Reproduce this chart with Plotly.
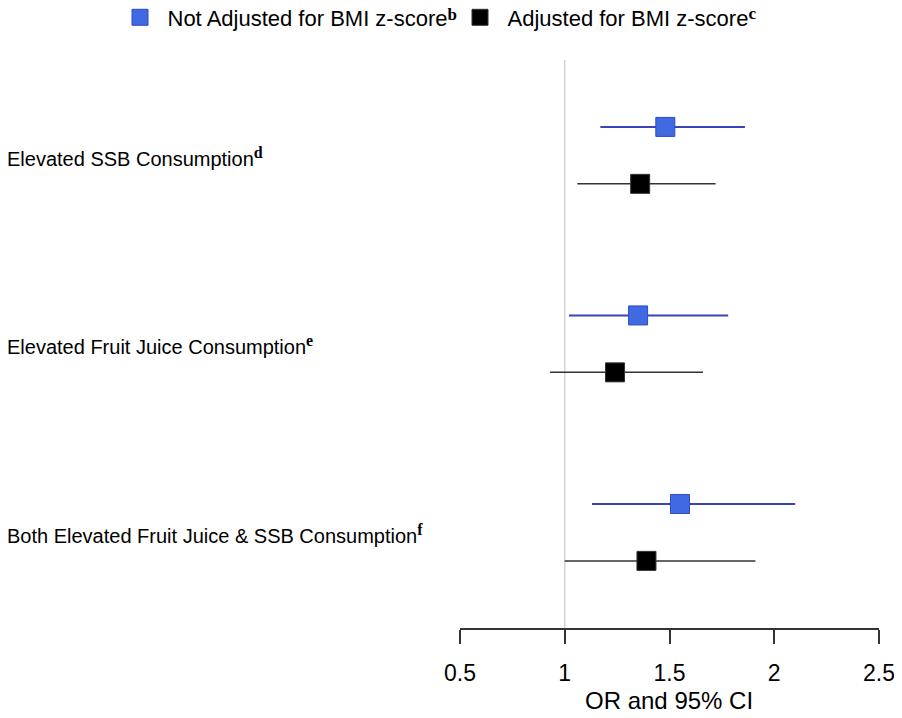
import plotly.graph_objects as go

categories = ["Elevated SSB Consumption", "Elevated Fruit Juice Consumption",
              "Both Elevated Fruit Juice & SSB Consumption"]
cat_sup = ["d", "e", "f"]

or_unadj = [1.48, 1.35, 1.55]
lo_unadj = [1.17, 1.02, 1.13]
hi_unadj = [1.86, 1.78, 2.10]

or_adj = [1.36, 1.24, 1.39]
lo_adj = [1.06, 0.93, 1.00]
hi_adj = [1.72, 1.66, 1.91]

xticks = [0.5, 1, 1.5, 2, 2.5]
xticklabels = ["0.5", "1", "1.5", "2", "2.5"]
xtitle = "OR and 95% CI"

FONT = "Liberation Sans, Arial, sans-serif"
BLUE = "#4169E1"
BLUE_LINE = "#3A44B8"

# figure geometry (page body has an 8px margin)
W, H = 886, 702
ML, MR, MT, MB = 452, 15, 52, 82
PW = W - ML - MR
PH = H - MT - MB

rows = list(range(len(categories)))
off = 0.151


def sup(s, size=16):
    return (f"<sup><span style='font-family:Liberation Serif;font-size:{size}px'>"
            f"<b>{s}</b></span></sup>")


def shifted(s, size, shift):
    return (f"<span style='font-family:Liberation Serif;font-size:{size}px;"
            f"font-weight:bold;baseline-shift:{shift}px'>{s}</span>")


fig = go.Figure()

fig.add_trace(go.Scatter(
    x=or_unadj, y=[r - off for r in rows], mode="markers",
    name="Not Adjusted for BMI z-score" + shifted("b", 17, 6),
    marker=dict(symbol="square", size=19, color=BLUE, line=dict(color="#2B4ACB", width=1)),
    error_x=dict(type="data", symmetric=False,
                 array=[h - o for h, o in zip(hi_unadj, or_unadj)],
                 arrayminus=[o - l for o, l in zip(or_unadj, lo_unadj)],
                 color=BLUE_LINE, thickness=2, width=0),
))
fig.add_trace(go.Scatter(
    x=or_adj, y=[r + off for r in rows], mode="markers",
    name="Adjusted for BMI z-score" + shifted("c", 17, 7),
    marker=dict(symbol="square", size=19, color="black", line=dict(color="#333333", width=1)),
    error_x=dict(type="data", symmetric=False,
                 array=[h - o for h, o in zip(hi_adj, or_adj)],
                 arrayminus=[o - l for o, l in zip(or_adj, lo_adj)],
                 color="#333333", thickness=1.5, width=0),
))

fig.add_shape(type="line", x0=1, x1=1, xref="x", yref="paper", y0=0, y1=1,
              line=dict(color="#D3D3D3", width=1.5), layer="below")

for r, (c, s) in enumerate(zip(categories, cat_sup)):
    fig.add_annotation(
        x=(-3 - ML) / PW, xref="paper", y=r + 0.008, yref="y",
        xanchor="left", yanchor="middle", showarrow=False,
        text=c + sup(s),
        font=dict(family=FONT, size=20, color="black"),
    )

# axis title
fig.add_annotation(
    x=(660.5 - ML) / PW, xref="paper", y=-72 / PH, yref="paper",
    xanchor="center", yanchor="middle", showarrow=False,
    text=xtitle, font=dict(family=FONT, size=24, color="black"),
)

fig.update_layout(
    width=W, height=H,
    margin=dict(l=ML, r=MR, t=MT, b=MB, autoexpand=False),
    paper_bgcolor="white", plot_bgcolor="white",
    font=dict(family=FONT, size=20, color="black"),
    showlegend=True,
    legend=dict(orientation="h", x=(104.5 - ML) / PW, xref="paper", xanchor="left",
                y=1 + (MT - 9.5) / PH, yref="paper", yanchor="middle",
                font=dict(family=FONT, size=22, color="black"),
                itemwidth=45, entrywidth=280, tracegroupgap=0),
    xaxis=dict(range=[0.5, 2.5], tickvals=xticks, ticktext=xticklabels,
               showline=True, linecolor="#333333", linewidth=1.5,
               ticks="outside", ticklen=14, tickwidth=1.5, tickcolor="#333333",
               showgrid=False, zeroline=False, ticklabelstandoff=10,
               ticklabeloverflow="allow",
               tickfont=dict(size=23, family=FONT)),
    yaxis=dict(range=[2.507, -0.506], visible=False, showgrid=False, zeroline=False),
)

fig.write_html("out.html")
